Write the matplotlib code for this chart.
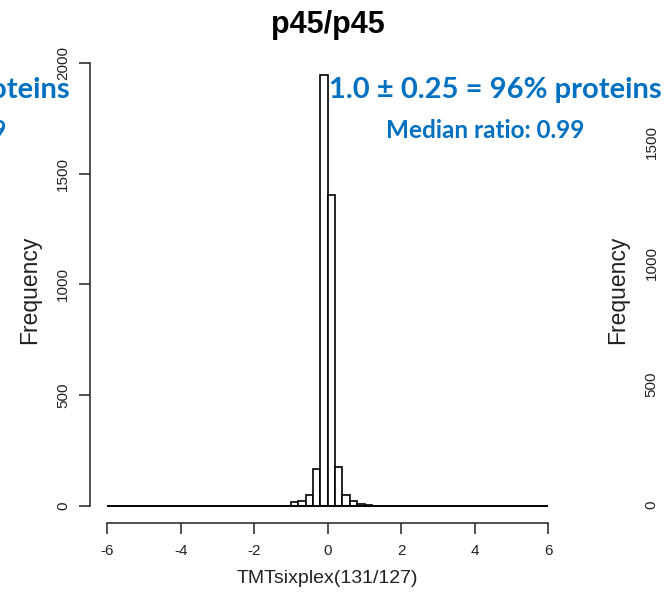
import numpy as np
import matplotlib
matplotlib.use("Agg")
import matplotlib.pyplot as plt

# histogram of log2 ratios, bins of 0.2 from -6 to 6 (counts)
bin_starts = [-1.0, -0.8, -0.6, -0.4, -0.2, 0.0, 0.2, 0.4, 0.6, 0.8, 1.0]
bin_counts = [15, 23, 47, 167, 1946, 1403, 173, 47, 21, 7, 5]
edges = np.round(np.arange(-6, 6.01, 0.2), 1)
lookup = dict(zip(bin_starts, bin_counts))
counts = [lookup.get(e, 0) for e in edges[:-1]]

xticks = [-6, -4, -2, 0, 2, 4, 6]
yticks = [0, 500, 1000, 1500, 2000]
right_yticks = [0, 500, 1000, 1500]

title = "p45/p45"
xlabel = "TMTsixplex(131/127)"
ylabel = "Frequency"
note1 = "1.0 \u00b1 0.25 = 96% proteins"
note2 = "Median ratio: 0.99"
blue = "#0070C0"

plt.rcParams['font.family'] = ['Liberation Sans', 'DejaVu Sans']

W, H = 664, 598
fig = plt.figure(figsize=(W / 100, H / 100), dpi=100)

def box(l, t, r, b):
    return [l / W, 1 - b / H, (r - l) / W, (b - t) / H]

ax = fig.add_axes(box(89.7, 57.6, 565.9, 522.9))
ax.bar(edges[:-1], counts, width=0.2, align='edge', color='white',
       edgecolor='black', linewidth=1.2)
ax.hlines(0, edges[0], edges[-1], color='black', linewidth=1.2)
ax.set_xlim(-6.48, 6.48)
ax.set_ylim(-77.8, 2023.8)

for s in ['top', 'right']:
    ax.spines[s].set_visible(False)
ax.spines['left'].set_bounds(0, 2000)
ax.spines['bottom'].set_bounds(-6, 6)
for s in ['left', 'bottom']:
    ax.spines[s].set_linewidth(1.1)
    ax.spines[s].set_color('#222222')

ax.set_xticks(xticks)
ax.set_xticklabels([str(t) for t in xticks])
ax.set_yticks(yticks)
ax.set_yticklabels([str(t) for t in yticks], rotation=90, va='center')
ax.tick_params(axis='both', length=8, width=1.1, color='#222222',
               labelsize=11, labelcolor='#222222')
ax.tick_params(axis='x', pad=7)
ax.tick_params(axis='y', pad=6)

ax.set_xlabel(xlabel, fontsize=14, color='#222222', labelpad=9)
ax.set_ylabel(ylabel, fontsize=16.5, color='#222222', labelpad=11)
fig.text(327.8 / W, 1 - 25 / H, title, ha='center', va='center',
         fontsize=22, fontweight='bold')

# annotations (Calibri-like)
fig.text(662 / W, 1 - 90 / H, note1, ha='right', va='center', color=blue,
         fontsize=21, fontweight='bold', family=['Lato', 'DejaVu Sans'])
fig.text(584 / W, 1 - 131 / H, note2, ha='right', va='center', color=blue,
         fontsize=17.5, fontweight='bold', family=['Lato', 'DejaVu Sans'])
# same annotations from the neighbouring panel, cut off at the left edge
fig.text(70 / W, 1 - 90 / H, note1, ha='right', va='center', color=blue,
         fontsize=21, fontweight='bold', family=['Lato', 'DejaVu Sans'])
fig.text(6 / W, 1 - 131 / H, note2, ha='right', va='center', color=blue,
         fontsize=17.5, fontweight='bold', family=['Lato', 'DejaVu Sans'])

# neighbouring panel on the right, mostly outside the figure
ax2 = fig.add_axes(box(678, 57.6, 1100, 522.9))
ax2.set_ylim(-74, 1849)
ax2.set_xlim(0, 1)
for s in ['top', 'right', 'bottom']:
    ax2.spines[s].set_visible(False)
ax2.set_xticks([])
ax2.set_yticks(right_yticks)
ax2.set_yticklabels([str(t) for t in right_yticks], rotation=90, va='center')
ax2.tick_params(axis='y', length=8, pad=6, labelsize=11, labelcolor='#222222')
ax2.set_ylabel(ylabel, fontsize=16.5, color='#222222', labelpad=11)

fig.savefig("out.png", dpi=100)
